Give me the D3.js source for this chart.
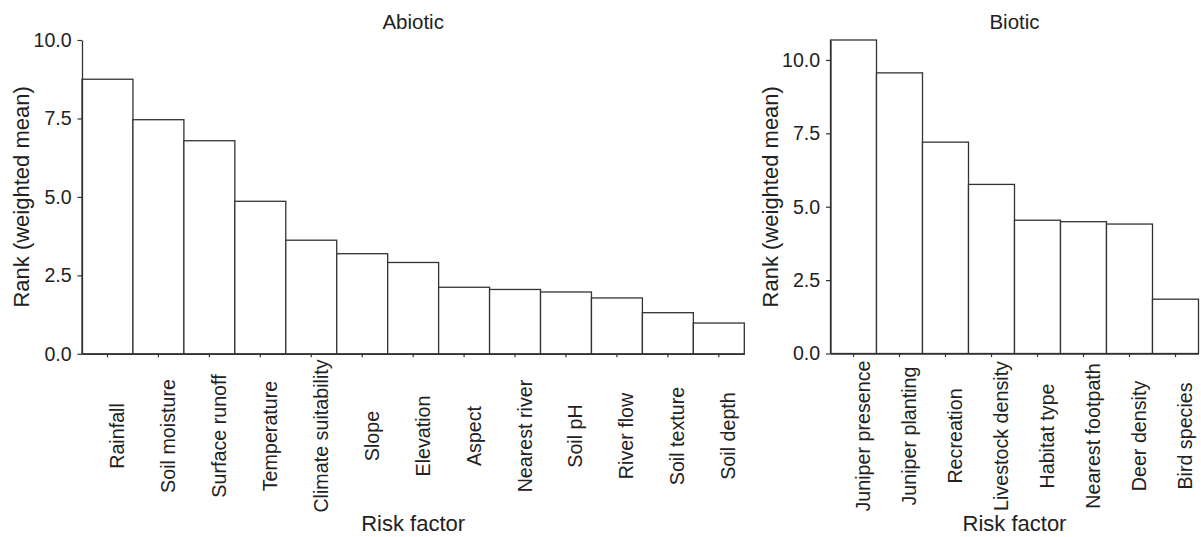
<!DOCTYPE html>
<html>
<head>
<meta charset="utf-8">
<script src="https://cdn.jsdelivr.net/npm/d3@7"></script>
<style>
  html, body { margin: 0; padding: 0; background: #fff; }
  svg { display: block; font-family: Arial, "Liberation Sans", sans-serif; }
</style>
</head>
<body>
<svg id="chart" width="1201" height="537"></svg>
<script>
// Abiotic risk factors, ranked by weighted mean
const abioticFactors = ["Rainfall", "Soil moisture", "Surface runoff", "Temperature",
  "Climate suitability", "Slope", "Elevation", "Aspect", "Nearest river", "Soil pH",
  "River flow", "Soil texture", "Soil depth"];
const abioticRank = [8.75, 7.46, 6.79, 4.86, 3.62, 3.19, 2.91, 2.12, 2.05, 1.97, 1.78, 1.31, 0.98];

// Biotic risk factors, ranked by weighted mean
const bioticFactors = ["Juniper presence", "Juniper planting", "Recreation", "Livestock density",
  "Habitat type", "Nearest footpath", "Deer density", "Bird species"];
const bioticRank = [10.68, 9.56, 7.20, 5.76, 4.54, 4.49, 4.41, 1.85];

const rankTicks = [0, 2.5, 5, 7.5, 10];

const svg = d3.select("#chart");
const ink = "#222";
const lineInk = "#333";

function panel(cfg) {
  const g = svg.append("g");
  const x = d3.scaleBand().domain(cfg.categories).range([cfg.x0, cfg.x1]).padding(0);
  const y = d3.scaleLinear().domain([0, cfg.yMax]).range([cfg.bottom, cfg.top]);

  // bars
  g.append("g").selectAll("rect")
    .data(cfg.categories.map((c, i) => ({ c, v: cfg.values[i] })))
    .join("rect")
    .attr("x", d => x(d.c))
    .attr("y", d => y(d.v))
    .attr("width", x.bandwidth())
    .attr("height", d => y(0) - y(d.v))
    .attr("fill", "#fff")
    .attr("stroke", lineInk)
    .attr("stroke-width", 1.3);

  // y axis
  const ya = g.append("g")
    .attr("transform", `translate(${cfg.x0},0)`)
    .call(d3.axisLeft(y).tickValues(rankTicks).tickFormat(d3.format(".1f"))
      .tickSize(4.5).tickPadding(5.8).tickSizeOuter(0));
  ya.select(".domain").attr("stroke", lineInk).attr("stroke-width", 1.3);
  ya.selectAll(".tick line").attr("stroke", lineInk).attr("stroke-width", 1.2);
  ya.selectAll(".tick text").attr("fill", ink).style("font-size", "19.6px")
    .attr("font-family", null);

  // x axis
  const xa = g.append("g")
    .attr("transform", `translate(0,${cfg.bottom})`)
    .call(d3.axisBottom(x).tickSize(3.5).tickSizeOuter(0).tickFormat(""));
  xa.select(".domain").attr("stroke", lineInk).attr("stroke-width", 1.3);
  xa.selectAll(".tick line").attr("stroke", lineInk).attr("stroke-width", 1.2);

  // rotated category labels
  g.append("g").selectAll("text")
    .data(cfg.categories)
    .join("text")
    .attr("transform", d => `translate(${x(d) + x.bandwidth() / 2 + 16.5},436) rotate(-90)`)
    .attr("text-anchor", "middle")
    .attr("fill", ink)
    .style("font-size", "19.7px")
    .text(d => d);

  const cx = (cfg.x0 + cfg.x1) / 2;

  // panel title
  g.append("text")
    .attr("x", cx).attr("y", 28.5)
    .attr("text-anchor", "middle")
    .attr("fill", ink)
    .style("font-size", "20.5px")
    .text(cfg.title);

  // axis titles
  g.append("text")
    .attr("transform", `translate(${cfg.x0 - 53},${(cfg.top + cfg.bottom) / 2}) rotate(-90)`)
    .attr("text-anchor", "middle")
    .attr("fill", ink)
    .style("font-size", "22px")
    .text("Rank (weighted mean)");

  g.append("text")
    .attr("x", cx).attr("y", 531)
    .attr("text-anchor", "middle")
    .attr("fill", ink)
    .style("font-size", "22px")
    .text("Risk factor");
}

panel({ title: "Abiotic", categories: abioticFactors, values: abioticRank,
  yMax: 10, x0: 82, x1: 744.3, top: 40, bottom: 353.8 });

panel({ title: "Biotic", categories: bioticFactors, values: bioticRank,
  yMax: d3.max(bioticRank), x0: 830.5, x1: 1198.5, top: 40, bottom: 353.5 });
</script>
</body>
</html>
